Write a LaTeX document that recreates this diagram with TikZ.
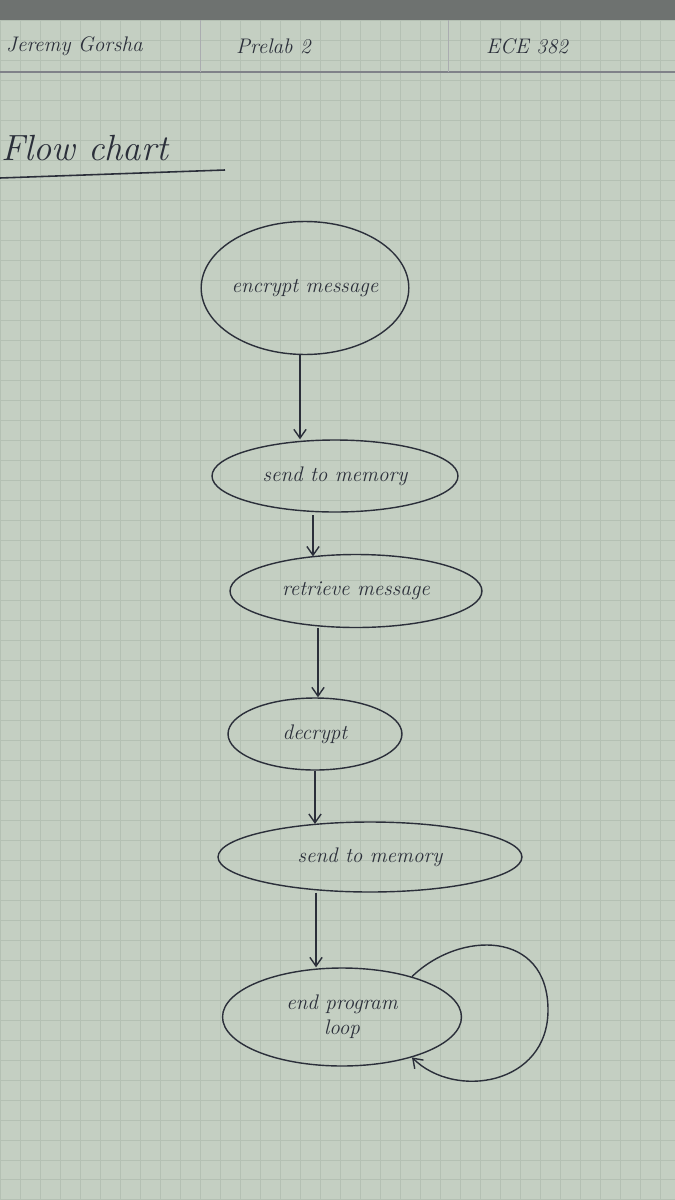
\documentclass[tikz,border=0pt]{standalone}
\usepackage{tikz}
\usetikzlibrary{shapes.geometric,arrows.meta}
\definecolor{paper}{HTML}{C4CFC2}
\definecolor{ink}{HTML}{2B2F3A}
\definecolor{gridc}{HTML}{B4C0B3}
\definecolor{topstrip}{HTML}{6E7270}
\begin{document}
\begin{tikzpicture}[x=0.02cm,y=-0.02cm,
  blob/.style={ellipse,draw=ink,line width=0.8pt,inner sep=0pt,font=\large\itshape,text=ink,align=center},
  flow/.style={draw=ink,line width=0.8pt,-{Straight Barb[length=5pt,width=7pt]}},
  hand/.style={text=ink,font=\Large\itshape,anchor=west}]
\useasboundingbox (0,0) rectangle (675,1200);
\fill[paper] (0,0) rectangle (675,1200);
\fill[topstrip] (0,0) rectangle (675,20);
\draw[gridc,line width=0.3pt] (0,20) grid[step=0.4cm] (675,1200);
% header
\draw[ink!60,line width=0.6pt] (0,72) -- (675,72);
\draw[ink!40,line width=0.5pt] (200,20) -- (200,72);
\draw[ink!40,line width=0.5pt] (448,20) -- (448,72);
\node[hand,font=\large\itshape] (name) at (0,46) {Jeremy Gorsha};
\node[hand,font=\large\itshape] (lab) at (230,46) {Prelab 2};
\node[hand,font=\large\itshape] (course) at (480,46) {ECE 382};
% title
\node[hand,font=\huge\itshape] (title) at (-5,148) {Flow chart};
\draw[ink,line width=0.9pt] (0,178) -- (225,170);
% nodes
\node[blob,minimum width=3.88cm,minimum height=2.66cm] (n1) at (305,288) {encrypt message};
\node[blob,minimum width=4.92cm,minimum height=1.44cm] (n2) at (335,476) {send to memory};
\node[blob,minimum width=5.04cm,minimum height=1.46cm] (n3) at (356,591) {retrieve message};
\node[blob,minimum width=3.48cm,minimum height=1.44cm] (n4) at (315,734) {decrypt};
\node[blob,minimum width=6.08cm,minimum height=1.40cm] (n5) at (370,857) {send to memory};
\node[blob,minimum width=4.78cm,minimum height=1.96cm] (n6) at (342,1017) {end program\\loop};
% connector columns
\coordinate (c1) at (300,0);
\coordinate (c2) at (313,0);
\coordinate (c3) at (318,0);
\coordinate (c4) at (315,0);
\coordinate (c5) at (316,0);
% connectors
\draw[flow] (n1.south -| c1) -- (c1 |- n2.north);
\draw[flow] ([yshift=-1.5pt]n2.south -| c2) -- ([yshift=-1.5pt]c2 |- n3.north);
\draw[flow] (n3.south -| c3) -- (c3 |- n4.north);
\draw[flow] (n4.south -| c4) -- ([yshift=-1.5pt]c4 |- n5.north);
\draw[flow] (n5.south -| c5) -- (c5 |- n6.north);
\draw[flow] (n6.30) .. controls (460,930) and (548,930) .. (548,1010)
  .. controls (548,1085) and (455,1100) .. (n6.-30);
\end{tikzpicture}
\end{document}
